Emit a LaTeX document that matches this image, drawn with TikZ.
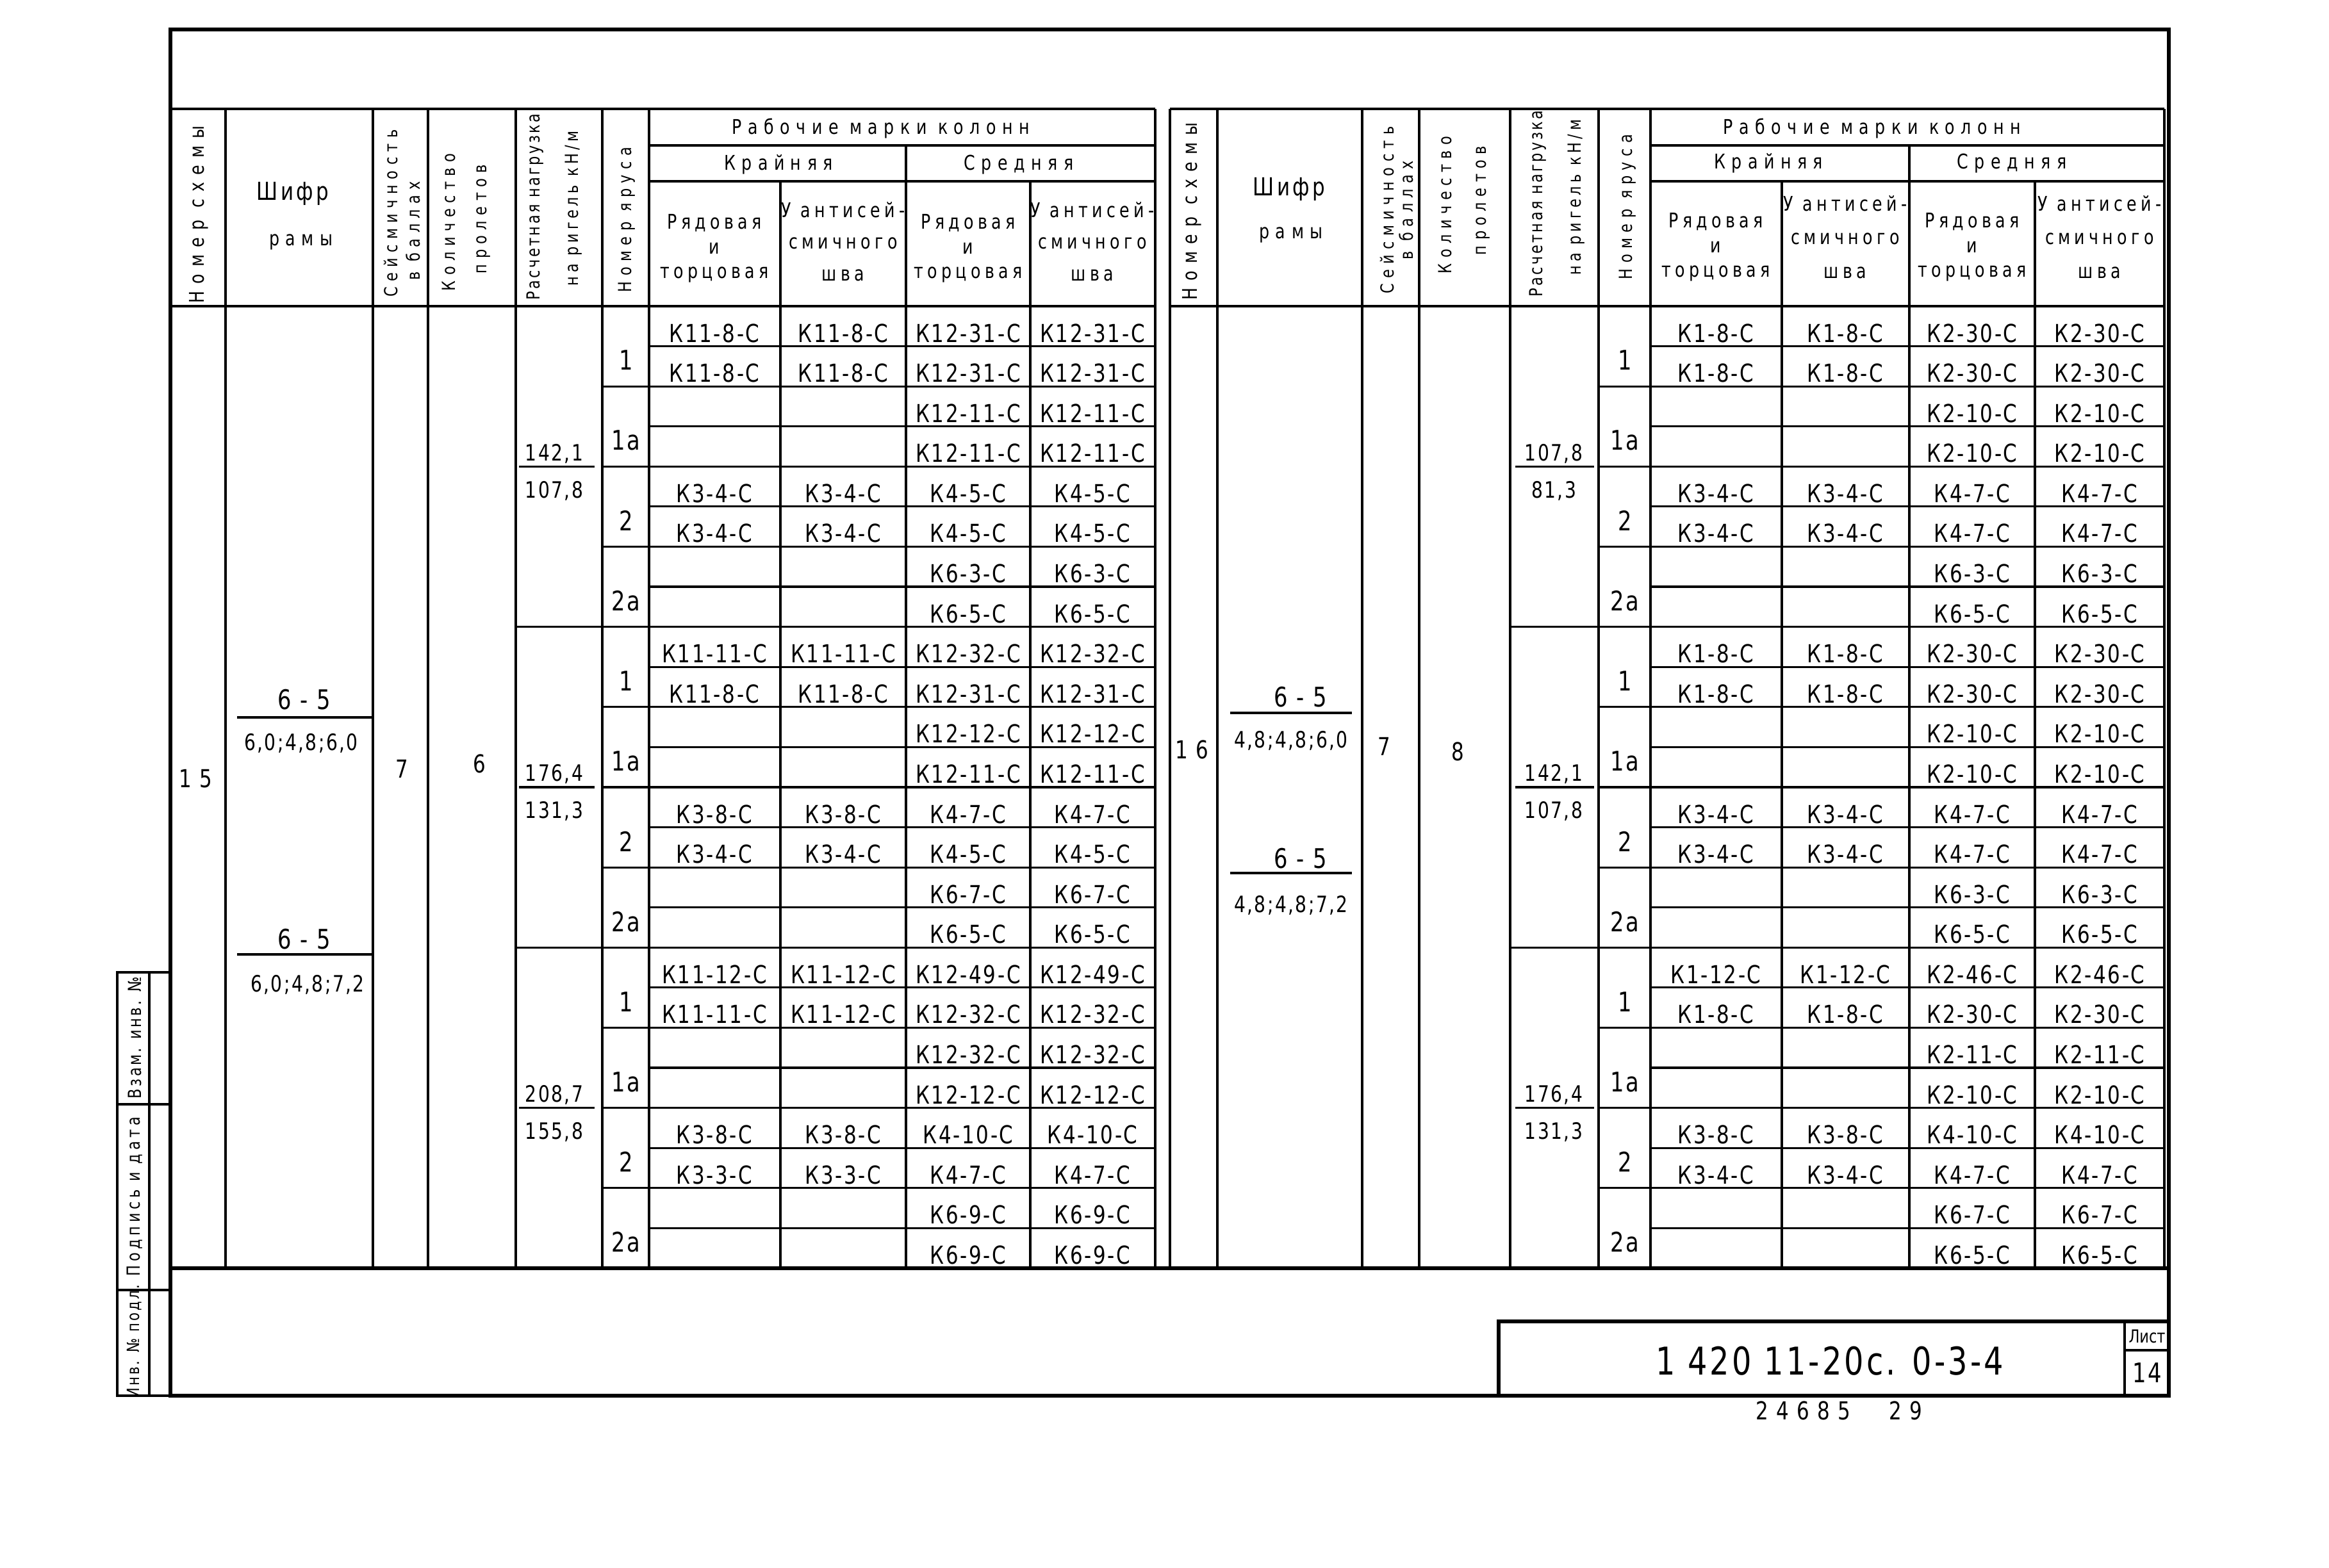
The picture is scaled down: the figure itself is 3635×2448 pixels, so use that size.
\documentclass[tikz,border=0pt]{standalone}
\usepackage{fontspec}
\setmainfont{DejaVu Sans}[FakeStretch=0.8]
\newfontfamily\tabfont{DejaVu Sans}[FakeStretch=0.8,LetterSpace=7]
\newfontfamily\numfont{DejaVu Sans}[FakeStretch=0.8,LetterSpace=32]
\newfontfamily\headfont{DejaVu Sans}[FakeStretch=0.8,LetterSpace=30]
\newfontfamily\headloose{DejaVu Sans}[FakeStretch=0.8,LetterSpace=35]
\newfontfamily\headmid{DejaVu Sans}[FakeStretch=0.8,LetterSpace=20]
\newfontfamily\headtight{DejaVu Sans}[FakeStretch=0.8,LetterSpace=12]
\usetikzlibrary{positioning}

% y of the n-th line of the data part
\newcommand{\rowy}[1]{478+62.58*(#1)}

\tikzset{
  tabline/.style={line width=0.9pt},
  sheetline/.style={line width=1.6pt},
  markcell/.style={inner sep=0pt,font=\tabfont\fontsize{11}{11}\selectfont},
  fraccell/.style={inner sep=0pt,font=\tabfont\fontsize{10}{10}\selectfont},
  numcell/.style={inner sep=0pt,font=\numfont\fontsize{11}{11}\selectfont},
  tiercell/.style={inner sep=0pt,font=\tabfont\fontsize{12}{12}\selectfont},
  headtext/.style={inner sep=0pt,align=center,font=\headfont\fontsize{9}{11}\selectfont},
  headvert/.style={headtext,rotate=90,font=\headfont\fontsize{8}{8}\selectfont},
  subhead/.style={headtext,font=\headmid\fontsize{9}{11}\selectfont},
}

\begin{document}
\begin{tikzpicture}[x=0.01cm,y=-0.01cm]
  \useasboundingbox (0,0) rectangle (3635,2448);

  % sheet frame
  \draw[sheetline] (266,46) rectangle (3385,2179);
  \draw[sheetline] (266,1980) -- (3385,1980);

  % left table: lines
  \draw[tabline] (266,170) -- (1803,170);
  \draw[tabline] (1013,227) -- (1803,227);
  \draw[tabline] (1013,283) -- (1803,283);
  \draw[tabline] (266,478) -- (1803,478);
  \foreach \x in {352,582,668,805,940,1013,1803}
    \draw[tabline] (\x,170) -- (\x,1980);
  \draw[tabline] (1414,227) -- (1414,1980);
  \foreach \x in {1218,1608}
    \draw[tabline] (\x,283) -- (\x,1980);
  \foreach \n in {1,...,23}
    \draw[tabline] (1013,{\rowy{\n}}) -- (1803,{\rowy{\n}});
  \foreach \n in {2,4,...,22}
    \draw[tabline] (940,{\rowy{\n}}) -- (1013,{\rowy{\n}});
  \foreach \n in {8,16}
    \draw[tabline] (805,{\rowy{\n}}) -- (940,{\rowy{\n}});

  % right table: lines
  \draw[tabline] (1826,170) -- (3378,170);
  \draw[tabline] (2576,227) -- (3378,227);
  \draw[tabline] (2576,283) -- (3378,283);
  \draw[tabline] (1826,478) -- (3378,478);
  \foreach \x in {1826,1900,2126,2215,2357,2495,2576,3378}
    \draw[tabline] (\x,170) -- (\x,1980);
  \draw[tabline] (2980,227) -- (2980,1980);
  \foreach \x in {2781,3176}
    \draw[tabline] (\x,283) -- (\x,1980);
  \foreach \n in {1,...,23}
    \draw[tabline] (2576,{\rowy{\n}}) -- (3378,{\rowy{\n}});
  \foreach \n in {2,4,...,22}
    \draw[tabline] (2495,{\rowy{\n}}) -- (2576,{\rowy{\n}});
  \foreach \n in {8,16}
    \draw[tabline] (2357,{\rowy{\n}}) -- (2495,{\rowy{\n}});

  % left table: header
  \node[headvert,font=\headloose\fontsize{9}{9}\selectfont] (L-nomer) at (310,335) {Номер схемы};
  \node[headtext,font=\headtight\fontsize{11}{11}\selectfont] (L-shifr) at (457,302) {Шифр};
  \node[headtext] (L-ramy) at (470,378) {рамы};
  \node[headvert] (L-seism) at (610,333) {Сейсмичность};
  \node[headvert] (L-ball) at (645,360) {в баллах};
  \node[headvert] (L-kolvo) at (700,347) {Количество};
  \node[headvert] (L-prolet) at (755,342) {пролетов};
  \node[headvert,font=\headtight\fontsize{8}{8}\selectfont] (L-nagr) at (835,323) {Расчетная нагрузка};
  \node[headvert,font=\headmid\fontsize{8}{8}\selectfont] (L-rigel) at (895,325) {на ригель кН/м};
  \node[headvert] (L-yarus) at (978,343) {Номер яруса};
  \node[headtext] (L-marki) at (1375,200) {Рабочие марки колонн};
  \node[headtext] (L-kr) at (1215,257) {Крайняя};
  \node[headtext] (L-sr) at (1590,257) {Средняя};
  \node[subhead] (L-kr1) at (1115,388) {Рядовая\\и\\торцовая};
  \node[subhead,font=\headmid\fontsize{9}{14}\selectfont] (L-kr2) at (1316,377) {У антисей-\\смичного\\шва};
  \node[subhead] (L-sr1) at (1511,388) {Рядовая\\и\\торцовая};
  \node[subhead,font=\headmid\fontsize{9}{14}\selectfont] (L-sr2) at (1705,377) {У антисей-\\смичного\\шва};

  % right table: header
  \node[headvert,font=\headloose\fontsize{9}{9}\selectfont] (R-nomer) at (1860,330) {Номер схемы};
  \node[headtext,font=\headtight\fontsize{11}{11}\selectfont] (R-shifr) at (2012,295) {Шифр};
  \node[headtext] (R-ramy) at (2015,367) {рамы};
  \node[headvert] (R-seism) at (2165,328) {Сейсмичность};
  \node[headvert] (R-ball) at (2195,328) {в баллах};
  \node[headvert] (R-kolvo) at (2255,320) {Количество};
  \node[headvert] (R-prolet) at (2315,313) {пролетов};
  \node[headvert,font=\headtight\fontsize{8}{8}\selectfont] (R-nagr) at (2400,318) {Расчетная нагрузка};
  \node[headvert,font=\headmid\fontsize{8}{8}\selectfont] (R-rigel) at (2460,308) {на ригель кН/м};
  \node[headvert] (R-yarus) at (2540,323) {Номер яруса};
  \node[headtext] (R-marki) at (2922,200) {Рабочие марки колонн};
  \node[headtext] (R-kr) at (2760,255) {Крайняя};
  \node[headtext] (R-sr) at (3140,255) {Средняя};
  \node[subhead] (R-kr1) at (2678,386) {Рядовая\\и\\торцовая};
  \node[subhead,font=\headmid\fontsize{9}{15}\selectfont] (R-kr2) at (2880,370) {У антисей-\\смичного\\шва};
  \node[subhead] (R-sr1) at (3078,386) {Рядовая\\и\\торцовая};
  \node[subhead,font=\headmid\fontsize{9}{15}\selectfont] (R-sr2) at (3277,370) {У антисей-\\смичного\\шва};

  % left table: scheme 15
  \node[numcell] (L-schema) at (305,1216) {15};
  \node[numcell,font=\numfont\fontsize{12}{12}\selectfont] (L-shifr1n) at (475,1092) {6-5};
  \draw[tabline] (370,1120) -- (580,1120);
  \node[fraccell] (L-shifr1d) at (470,1160) {6,0;4,8;6,0};
  \node[numcell,font=\numfont\fontsize{12}{12}\selectfont] (L-shifr2n) at (475,1466) {6-5};
  \draw[tabline] (370,1490) -- (580,1490);
  \node[fraccell] (L-shifr2d) at (480,1537) {6,0;4,8;7,2};
  \node[numcell] (L-ball7) at (627,1200) {7};
  \node[numcell] (L-prol6) at (748,1192) {6};
  \foreach \g/\num/\den in {0/{142,1}/{107,8},1/{176,4}/{131,3},2/{208,7}/{155,8}} {
    \draw[tabline] (810,{\rowy{8*\g+4}}) -- (928,{\rowy{8*\g+4}});
    \node[fraccell] (L-load\g n) at (865,{\rowy{8*\g+4}-20}) {\num};
    \node[fraccell] (L-load\g d) at (865,{\rowy{8*\g+4}+38}) {\den};
  }

  % right table: scheme 16
  \node[numcell] (R-schema) at (1860,1170) {16};
  \node[numcell,font=\numfont\fontsize{12}{12}\selectfont] (R-shifr1n) at (2030,1088) {6-5};
  \draw[tabline] (1920,1113) -- (2110,1113);
  \node[fraccell] (R-shifr1d) at (2015,1156) {4,8;4,8;6,0};
  \node[numcell,font=\numfont\fontsize{12}{12}\selectfont] (R-shifr2n) at (2030,1340) {6-5};
  \draw[tabline] (1920,1363) -- (2110,1363);
  \node[fraccell] (R-shifr2d) at (2015,1413) {4,8;4,8;7,2};
  \node[numcell] (R-ball7) at (2160,1165) {7};
  \node[numcell] (R-prol8) at (2275,1173) {8};
  \foreach \g/\num/\den in {0/{107,8}/{81,3},1/{142,1}/{107,8},2/{176,4}/{131,3}} {
    \draw[tabline] (2365,{\rowy{8*\g+4}}) -- (2488,{\rowy{8*\g+4}});
    \node[fraccell] (R-load\g n) at (2425,{\rowy{8*\g+4}-20}) {\num};
    \node[fraccell] (R-load\g d) at (2425,{\rowy{8*\g+4}+38}) {\den};
  }

  % tiers
  \foreach \g in {0,1,2} {
    \foreach \t/\lab in {0/1,1/1а,2/2,3/2а} {
      \node[tiercell] (L-tier\g-\t) at (977,{\rowy{8*\g+2*\t+1}+22}) {\lab};
      \node[tiercell] (R-tier\g-\t) at (2536,{\rowy{8*\g+2*\t+1}+22}) {\lab};
    }
  }

  % column marks, left table: all four columns
  \foreach \rw/\krA/\krB/\srA/\srB in {
      0/К11-8-С/К11-8-С/К12-31-С/К12-31-С,
      1/К11-8-С/К11-8-С/К12-31-С/К12-31-С,
      4/К3-4-С/К3-4-С/К4-5-С/К4-5-С,
      5/К3-4-С/К3-4-С/К4-5-С/К4-5-С,
      8/К11-11-С/К11-11-С/К12-32-С/К12-32-С,
      9/К11-8-С/К11-8-С/К12-31-С/К12-31-С,
      12/К3-8-С/К3-8-С/К4-7-С/К4-7-С,
      13/К3-4-С/К3-4-С/К4-5-С/К4-5-С,
      16/К11-12-С/К11-12-С/К12-49-С/К12-49-С,
      17/К11-11-С/К11-12-С/К12-32-С/К12-32-С,
      20/К3-8-С/К3-8-С/К4-10-С/К4-10-С,
      21/К3-3-С/К3-3-С/К4-7-С/К4-7-С} {
    \node[markcell] (L-\rw-1) at (1115,{\rowy{\rw}+42}) {\krA};
    \node[markcell] (L-\rw-2) at (1316,{\rowy{\rw}+42}) {\krB};
    \node[markcell] (L-\rw-3) at (1511,{\rowy{\rw}+42}) {\srA};
    \node[markcell] (L-\rw-4) at (1705,{\rowy{\rw}+42}) {\srB};
  }
  % left table: middle columns only
  \foreach \rw/\srA in {2/К12-11-С,3/К12-11-С,6/К6-3-С,7/К6-5-С,
      10/К12-12-С,11/К12-11-С,14/К6-7-С,15/К6-5-С,
      18/К12-32-С,19/К12-12-С,22/К6-9-С,23/К6-9-С} {
    \node[markcell] (L-\rw-3) at (1511,{\rowy{\rw}+42}) {\srA};
    \node[markcell] (L-\rw-4) at (1705,{\rowy{\rw}+42}) {\srA};
  }

  % column marks, right table: all four columns
  \foreach \rw/\krA/\srA in {
      0/К1-8-С/К2-30-С, 1/К1-8-С/К2-30-С,
      4/К3-4-С/К4-7-С, 5/К3-4-С/К4-7-С,
      8/К1-8-С/К2-30-С, 9/К1-8-С/К2-30-С,
      12/К3-4-С/К4-7-С, 13/К3-4-С/К4-7-С,
      16/К1-12-С/К2-46-С, 17/К1-8-С/К2-30-С,
      20/К3-8-С/К4-10-С, 21/К3-4-С/К4-7-С} {
    \node[markcell] (R-\rw-1) at (2678,{\rowy{\rw}+42}) {\krA};
    \node[markcell] (R-\rw-2) at (2880,{\rowy{\rw}+42}) {\krA};
    \node[markcell] (R-\rw-3) at (3078,{\rowy{\rw}+42}) {\srA};
    \node[markcell] (R-\rw-4) at (3277,{\rowy{\rw}+42}) {\srA};
  }
  % right table: middle columns only
  \foreach \rw/\srA in {2/К2-10-С,3/К2-10-С,6/К6-3-С,7/К6-5-С,
      10/К2-10-С,11/К2-10-С,14/К6-3-С,15/К6-5-С,
      18/К2-11-С,19/К2-10-С,22/К6-7-С,23/К6-5-С} {
    \node[markcell] (R-\rw-3) at (3078,{\rowy{\rw}+42}) {\srA};
    \node[markcell] (R-\rw-4) at (3277,{\rowy{\rw}+42}) {\srA};
  }

  % stamp on the left margin
  \draw[tabline] (183,1518) rectangle (266,2179);
  \draw[tabline] (233,1518) -- (233,2179);
  \draw[tabline] (183,1724) -- (266,1724);
  \draw[tabline] (183,2014) -- (266,2014);
  \node[headvert,font=\headtight\fontsize{8}{8}\selectfont] (vzam) at (210,1620) {Взам. инв. №};
  \node[headvert,font=\headmid\fontsize{8}{8}\selectfont] (podp) at (210,1868) {Подпись и дата};
  \node[headvert,font=\headtight\fontsize{7.5}{8}\selectfont] (inv) at (210,2094) {Инв. № подл.};

  % title block
  \draw[sheetline] (2339,2063) rectangle (3385,2179);
  \draw[tabline] (3316,2063) -- (3316,2179);
  \draw[tabline] (3316,2108) -- (3385,2108);
  \node[markcell,font=\tabfont\fontsize{17}{17}\selectfont] (oboz) at (2856,2125) {1 420 11-20с. 0-3-4};
  \node[markcell,font=\fontsize{8}{8}\selectfont] (list) at (3351,2086) {Лист};
  \node[markcell,font=\tabfont\fontsize{12}{12}\selectfont] (listno) at (3351,2143) {14};
  \node[numcell] (inventar) at (2870,2202) {24685\hspace{0.6cm}29};
\end{tikzpicture}
\end{document}
